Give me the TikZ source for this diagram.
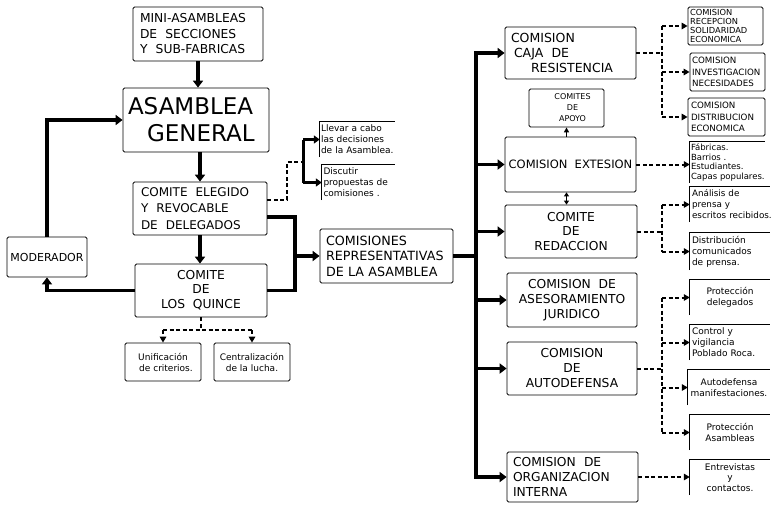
\documentclass[tikz,border=0pt]{standalone}
\usepackage{fontspec}
\setmainfont{DejaVu Sans}
\usetikzlibrary{arrows.meta,calc}
\begin{document}
\begin{tikzpicture}[x=1pt,y=-1pt,
  bx/.style={draw,line width=0.8pt,rounded corners=1.5pt,inner sep=0pt},
  obx/.style={inner sep=0pt},
  lcf/.style={font=\fontsize{9}{11}\selectfont},
  thkl/.style={line width=3.5pt},
  thk/.style={line width=3.5pt,-{Triangle[length=7pt,width=10pt]}},
  med/.style={line width=3pt,-{Triangle[length=6pt,width=8pt]}},
  dsh/.style={line width=2pt,dash pattern=on 4pt off 2.5pt},
  dsha/.style={dsh,-{Triangle[length=6pt,width=6.5pt]}},
  thn/.style={line width=1.5pt}
]
\useasboundingbox[fill=white] (0,0) rectangle (773,504);

% ---------- left part ----------
\node[bx,minimum width=130pt,minimum height=54pt,text width=116pt,align=left,font=\fontsize{12.3}{15.5}\selectfont]
  (mini) at (198,34) {MINI-ASAMBLEAS\\DE\ \ SECCIONES\\Y\ \ SUB-FABRICAS};
\node[bx,minimum width=146pt,minimum height=64pt,text width=136pt,align=left,font=\fontsize{23}{27}\selectfont]
  (asam) at (196,120) {ASAMBLEA\\\hspace*{19pt}GENERAL};
\node[bx,minimum width=134pt,minimum height=53pt,text width=118pt,align=left,font=\fontsize{12}{16.5}\selectfont]
  (eleg) at (200,208.5) {COMITE\ \ ELEGIDO\\Y\ \ REVOCABLE\\DE\ \ DELEGADOS};
\node[bx,minimum width=80pt,minimum height=40pt,font=\fontsize{11}{13}\selectfont]
  (moder) at (47,257) {MODERADOR};
\node[bx,minimum width=132pt,minimum height=53pt,align=center,font=\fontsize{12.3}{15.5}\selectfont]
  (quince) at (201,290.5) {\raisebox{-2pt}{COMITE}\\DE\\LOS\ \ QUINCE};
\node[bx,minimum width=76pt,minimum height=38pt,align=center,lcf]
  (unif) at (163,362) {Unificación\\\hspace*{6pt}de criterios.};
\node[bx,minimum width=76pt,minimum height=38pt,align=center,lcf]
  (central) at (252,362) {Centralización\\de la lucha.};
\node[obx,minimum width=75pt,minimum height=35pt,text width=73pt,align=left,lcf]
  (llevar) at (357.5,139.5) {Llevar a cabo\\las decisiones\\\mbox{de la Asamblea.}};
\node[obx,minimum width=73pt,minimum height=35pt,text width=70pt,align=left,lcf]
  (discutir) at (358.5,182.5) {Discutir\\\mbox{propuestas de}\\comisiones .};
\node[bx,minimum width=133pt,minimum height=54pt,text width=121pt,align=left,font=\fontsize{12.7}{15.5}\selectfont]
  (comrep) at (386.5,256) {COMISIONES\\\mbox{REPRESENTATIVAS}\\\mbox{DE LA ASAMBLEA}};

% ---------- middle column ----------
\node[bx,minimum width=131pt,minimum height=52pt,text width=119pt,align=left,font=\fontsize{12.5}{15}\selectfont]
  (caja) at (570.5,53) {COMISION\\\hspace*{3pt}CAJA\ \ DE\\\hspace*{20pt}RESISTENCIA};
\node[bx,minimum width=75pt,minimum height=38pt,align=center,font=\fontsize{8}{11}\selectfont]
  (apoyo) at (566.5,108) {\hspace*{12pt}COMITES\\\hspace*{12pt}DE\\\hspace*{12pt}APOYO};
\node[bx,minimum width=131pt,minimum height=55pt,font=\fontsize{11.5}{14}\selectfont]
  (extes) at (570.5,164.5) {COMISION\ \ EXTESION};
\node[bx,minimum width=132pt,minimum height=53pt,align=center,font=\fontsize{12.3}{14.5}\selectfont]
  (redac) at (571,231.5) {COMITE\\DE\\REDACCION};
\node[bx,minimum width=130pt,minimum height=54pt,align=center,font=\fontsize{12.3}{15}\selectfont]
  (asesor) at (572,300) {COMISION\ \ DE\\ASESORAMIENTO\\JURIDICO};
\node[bx,minimum width=130pt,minimum height=53pt,align=center,font=\fontsize{12.3}{15}\selectfont]
  (autod) at (572,368.5) {COMISION\\DE\\AUTODEFENSA};
\node[bx,minimum width=131pt,minimum height=50pt,text width=119pt,align=left,font=\fontsize{12.3}{15}\selectfont]
  (orgint) at (572.5,477) {COMISION\ \ DE\\ORGANIZACION\\INTERNA};

% ---------- right column ----------
\node[bx,minimum width=75pt,minimum height=38pt,text width=71pt,align=left,font=\fontsize{8.3}{8.7}\selectfont]
  (r1) at (725.5,26) {COMISION\\RECEPCION\\SOLIDARIDAD\\ECONOMICA};
\node[bx,minimum width=75pt,minimum height=38pt,text width=71pt,align=left,font=\fontsize{8.7}{11.5}\selectfont]
  (r2) at (727.5,72) {COMISION\\\mbox{INVESTIGACION}\\NECESIDADES};
\node[bx,minimum width=77pt,minimum height=38pt,text width=71pt,align=left,font=\fontsize{8.7}{11.5}\selectfont]
  (r3) at (726.5,117) {COMISION\\DISTRIBUCION\\ECONOMICA};
\node[obx,minimum width=75pt,minimum height=41pt,text width=73pt,align=left,font=\fontsize{8.5}{9.8}\selectfont]
  (fab) at (727.5,162.5) {Fábricas.\\Barrios .\\Estudiantes.\\\mbox{Capas populares.}};
\node[obx,minimum width=80pt,minimum height=35pt,text width=76pt,align=left,font=\fontsize{8.8}{11}\selectfont]
  (anal) at (730,204.5) {Análisis de\\prensa y\\\mbox{escritos recibidos.}};
\node[obx,minimum width=80pt,minimum height=37pt,text width=76pt,align=left,lcf]
  (distr) at (730,251.5) {Distribución\\comunicados\\de prensa.};
\node[obx,minimum width=80pt,minimum height=35pt,align=center,lcf]
  (protd) at (730,297.5) {Protección\\delegados};
\node[obx,minimum width=80pt,minimum height=35pt,text width=76pt,align=left,lcf]
  (contr) at (730,342.5) {Control y\\vigilancia\\Poblado Roca.};
\node[obx,minimum width=82pt,minimum height=35pt,align=center,lcf]
  (autom) at (729,387.5) {Autodefensa\\manifestaciones.};
\node[obx,minimum width=80pt,minimum height=35pt,align=center,lcf]
  (prota) at (730,432.5) {Protección\\Asambleas};
\node[obx,minimum width=80pt,minimum height=35pt,align=center,font=\fontsize{9}{10.5}\selectfont]
  (entrev) at (730,477.5) {Entrevistas\\y\\contactos.};

% open box borders
\foreach \n in {llevar,discutir,fab,anal,distr,protd,contr,autom,prota,entrev}
  \draw[line width=0.8pt] (\n.south west) |- (\n.north east);

% ---------- coordinates ----------
\coordinate (jx) at (295,256);
\coordinate (bx) at (476,0);
\coordinate (dc) at (662,0);
\coordinate (ed1) at (287,162);
\coordinate (ed2) at (303,162);
\coordinate (qd) at (201,330);

% ---------- thick connectors ----------
\draw[thk] (mini.south) -- (mini.south |- asam.north);
\draw[thk] (asam.south -| eleg.north) -- (eleg.north);
\draw[thk] (eleg.south) -- (eleg.south |- quince.north);
\draw[thk] (moder.north) |- (asam.west);
\draw[thk] (quince.west) -| (moder.south);
\draw[thkl,line join=miter] ([yshift=-8.5pt]eleg.east) -| (quince.east -| jx) -- (quince.east);
\draw[thk] (comrep.west -| jx) -- (comrep.west);
\draw[thkl] (comrep.east) -- (comrep.east -| bx);
\draw[line width=4.5pt,line cap=rect] (caja.west -| bx) -- (orgint.west -| bx);
\foreach \n in {caja,extes,redac,asesor,autod,orgint}
  \draw[thk] (\n.west -| bx) -- (\n.west);

% thin arrows between boxes of the middle column
\draw[thn,-{Triangle[length=5pt,width=5pt]}] (apoyo.south |- extes.north) -- (apoyo.south);
\draw[thn,{Triangle[length=4pt,width=5pt]}-{Triangle[length=4pt,width=5pt]}]
  (extes.south -| apoyo.south) -- (redac.north -| apoyo.south);

% ---------- dashed connectors, left ----------
\draw[dsh] ([yshift=8.5pt]eleg.east) -| (ed1) -- (ed2);
\draw[line width=3pt] (llevar.west -| ed2) -- (discutir.west -| ed2);
\draw[med] (llevar.west -| ed2) -- (llevar.west);
\draw[med] (discutir.west -| ed2) -- (discutir.west);

\draw[dsh] (quince.south) -- (quince.south |- qd);
\draw[dsh] (unif.north |- qd) -- (central.north |- qd);
\draw[dsha] (unif.north |- qd) -- (unif.north);
\draw[dsha] (central.north |- qd) -- (central.north);

% ---------- dashed connectors, right ----------
\draw[dsh] (caja.east) -- (caja.east -| dc);
\draw[dsh] (r1.west -| dc) -- (r3.west -| dc);
\foreach \n in {r1,r2,r3}
  \draw[dsha] (\n.west -| dc) -- (\n.west);

\draw[dsha] (extes.east) -- (extes.east -| fab.west);

\draw[dsh] (redac.east) -- (redac.east -| dc);
\draw[dsh] (anal.west -| dc) -- (distr.west -| dc);
\foreach \n in {anal,distr}
  \draw[dsha] (\n.west -| dc) -- (\n.west);

\draw[dsh] (autod.east) -- (autod.east -| dc);
\draw[dsh] (protd.west -| dc) -- (prota.west -| dc);
\foreach \n in {protd,contr,autom,prota}
  \draw[dsha] (\n.west -| dc) -- (\n.west);

\draw[dsha] (orgint.east) -- (orgint.east -| entrev.west);
\end{tikzpicture}
\end{document}
